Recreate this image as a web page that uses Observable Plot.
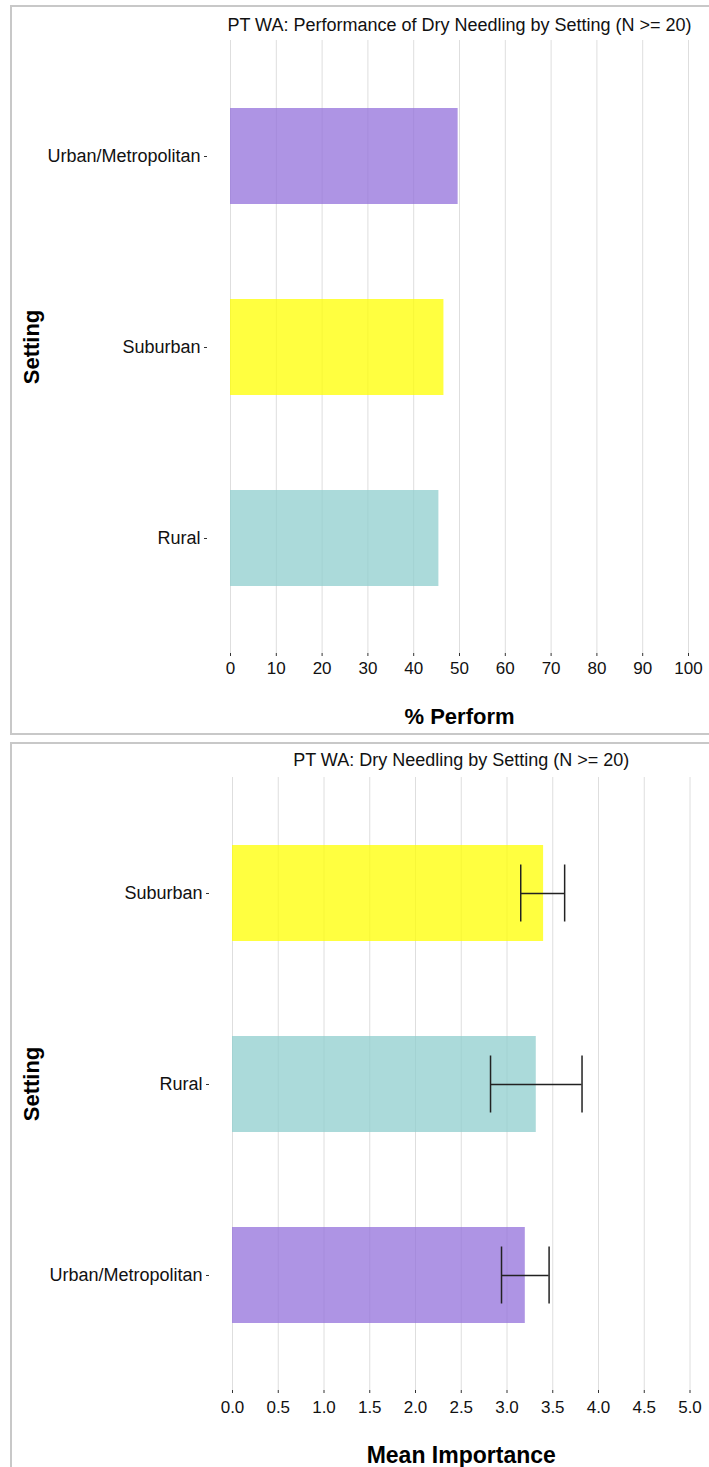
<!DOCTYPE html>
<html>
<head>
<meta charset="utf-8">
<script src="https://cdn.jsdelivr.net/npm/d3@7"></script>
<script src="https://cdn.jsdelivr.net/npm/@observablehq/plot@0.6"></script>
<style>
  html, body { margin: 0; padding: 0; background: #fff; width: 709px; height: 1467px; overflow: hidden; }
  .panel { position: absolute; left: 10px; width: 720px; border: 2px solid #c8c8c8; border-right: none; overflow: hidden; background: #fff; }
  #p1 { top: 5px; height: 726px; }
  #p2 { top: 742px; height: 760px; border-bottom: none; }
  svg { display: block; }
</style>
</head>
<body>
<div class="panel" id="p1"></div>
<div class="panel" id="p2"></div>
<script>
// ---- data ----
const settings1 = ["Urban/Metropolitan", "Suburban", "Rural"];
const performPct = [49.7, 46.6, 45.5];

const settings2 = ["Suburban", "Rural", "Urban/Metropolitan"];
const meanImportance = [3.40, 3.32, 3.20];
const ciLow = [3.15, 2.82, 2.94];
const ciHigh = [3.63, 3.82, 3.46];

const pctTicks = [0, 10, 20, 30, 40, 50, 60, 70, 80, 90, 100];
const impTicks = [0, 0.5, 1, 1.5, 2, 2.5, 3, 3.5, 4, 4.5, 5];

const title1 = "PT WA: Performance of Dry Needling by Setting (N >= 20)";
const title2 = "PT WA: Dry Needling by Setting (N >= 20)";

// ---- styles ----
const colorScale = {
  domain: ["Urban/Metropolitan", "Suburban", "Rural"],
  range: ["#9370DB", "#FFFF00", "#8FCDCD"]
};
const FONT = "'Liberation Sans', Arial, sans-serif";
const GRID = "#dedede";

const table1 = settings1.map((s, i) => ({setting: s, value: performPct[i]}));
const table2 = settings2.map((s, i) => ({setting: s, value: meanImportance[i], lo: ciLow[i], hi: ciHigh[i]}));

function axisTitles(xTitle, dyX, xSize, plotTitle, dyT, dxS) {
  return [
    Plot.text([plotTitle], {frameAnchor: "top", dy: dyT, fontSize: 18, fill: "#111", lineAnchor: "middle"}),
    Plot.text([xTitle], {frameAnchor: "bottom", dy: dyX, fontSize: xSize, fontWeight: "bold", fill: "#000", lineAnchor: "middle"}),
    Plot.text(["Setting"], {frameAnchor: "left", dx: dxS, rotate: -90, fontSize: 22, fontWeight: "bold", fill: "#000", lineAnchor: "middle", textAnchor: "middle"})
  ];
}

const chart1 = Plot.plot({
  width: 697,
  height: 726,
  marginLeft: 218,
  marginRight: 21,
  marginTop: 33,
  marginBottom: 80,
  style: {fontFamily: FONT, fontSize: "17px", color: "#111", background: "#fff"},
  x: {domain: [0, 100], label: null},
  y: {domain: settings1, label: null, paddingInner: 0.5, paddingOuter: 0.35},
  color: colorScale,
  marks: [
    Plot.gridX(pctTicks, {stroke: GRID, strokeOpacity: 1, strokeWidth: 1}),
    Plot.barX(table1, {x: "value", y: "setting", fill: "setting", fillOpacity: 0.75}),
    Plot.axisX({ticks: pctTicks, tickSize: 3, tickPadding: 5, stroke: "#333", fontSize: 17, label: null}),
    Plot.axisY({tickSize: 3, tickPadding: 4, dx: -23, stroke: "#333", fontSize: 18, label: null}),
    ...axisTitles("% Perform", 63, 22, title1, -15, -199)
  ]
});
document.getElementById("p1").appendChild(chart1);

const chart2 = Plot.plot({
  width: 697,
  height: 723,
  marginLeft: 220,
  marginRight: 19.5,
  marginTop: 33,
  marginBottom: 77,
  style: {fontFamily: FONT, fontSize: "17px", color: "#111", background: "#fff"},
  x: {domain: [0, 5], label: null},
  y: {domain: settings2, label: null, paddingInner: 0.5, paddingOuter: 0.35},
  color: colorScale,
  marks: [
    Plot.gridX(impTicks, {stroke: GRID, strokeOpacity: 1, strokeWidth: 1}),
    Plot.barX(table2, {x: "value", y: "setting", fill: "setting", fillOpacity: 0.75}),
    Plot.ruleY(table2, {x1: "lo", x2: "hi", y: "setting", stroke: "#222", strokeWidth: 1.5}),
    Plot.tickX(table2, {x: "lo", y: "setting", stroke: "#222", strokeWidth: 1.5, insetTop: 19.5, insetBottom: 19.5}),
    Plot.tickX(table2, {x: "hi", y: "setting", stroke: "#222", strokeWidth: 1.5, insetTop: 19.5, insetBottom: 19.5}),
    Plot.axisX({ticks: impTicks, tickFormat: d3.format(".1f"), tickSize: 3, tickPadding: 7, stroke: "#333", fontSize: 17, label: null}),
    Plot.axisY({tickSize: 3, tickPadding: 4, dx: -23, stroke: "#333", fontSize: 18, label: null}),
    ...axisTitles("Mean Importance", 65, 23, title2, -17, -201)
  ]
});
document.getElementById("p2").appendChild(chart2);
</script>
</body>
</html>
